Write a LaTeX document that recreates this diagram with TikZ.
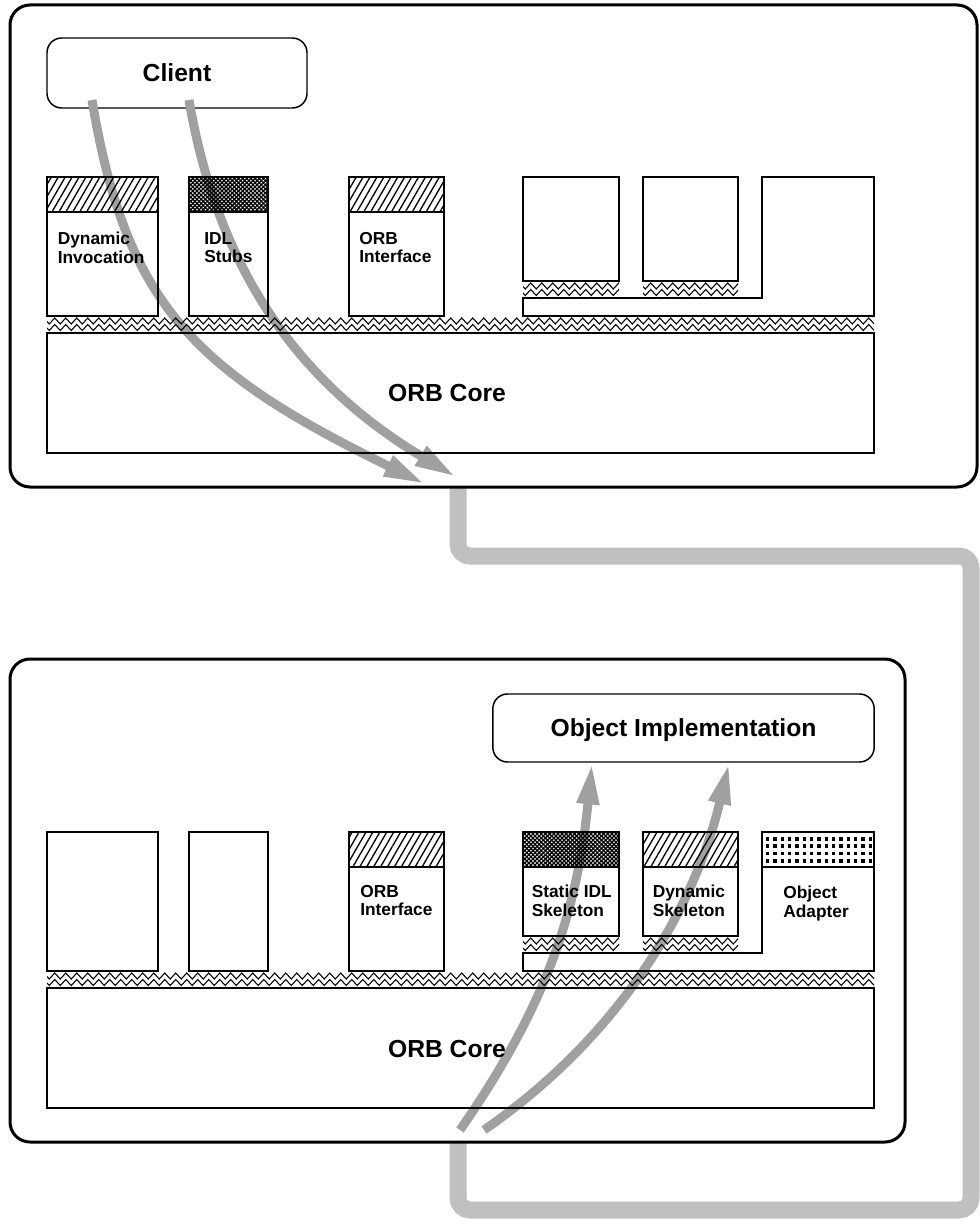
\documentclass[tikz,border=0pt]{standalone}
\usepackage{fontspec}
\setmainfont{Liberation Sans}
\usetikzlibrary{arrows.meta,patterns.meta,decorations.pathmorphing}
\definecolor{flowgray}{HTML}{A0A0A0}
\definecolor{wiregray}{HTML}{C0C0C0}
\tikzset{
  frame/.style={draw=black, line width=2.25pt, rounded corners=15pt},
  boxline/.style={draw=black, line width=1.1pt},
  rbox/.style={draw=black, line width=1.1pt, rounded corners=11pt, fill=white, inner sep=0pt,
     font=\fontsize{18.5}{22}\selectfont\bfseries, text height=13.3pt, text depth=0pt},
  biglabel/.style={font=\fontsize{18.5}{22}\selectfont\bfseries, inner sep=0pt, anchor=base},
  smalllabel/.style={font=\fontsize{13}{13.75}\selectfont\bfseries, align=left, inner sep=0pt, anchor=north west},
  flow/.style={draw=flowgray, line width=6.75pt, -{Triangle[length=31pt,width=15.5pt]}},
  wire/.style={draw=wiregray, line width=12.75pt, rounded corners=9pt},
  hatchA/.style={pattern={Lines[angle=60,distance=4.5pt,line width=1pt]}},
  hatchX/.style={pattern={Hatch[angle=45,distance=2.2pt,line width=1pt]}},
  zz/.style={draw=black, line width=0.8pt, decorate, decoration={zigzag, segment length=8.25pt, amplitude=2.25pt}},
  dotrow/.style={draw=black, line width=2.4pt, dash pattern=on 2.4pt off 3.1pt}
}
\newcommand{\zzstrip}[3]{%
  \begin{scope}
    \clip (#1,#3) rectangle (#2,#3+17);
    \draw[zz] (#1-6,#3+5) -- (#2+6,#3+5);
    \draw[zz] (#1-6,#3+11.5) -- (#2+6,#3+11.5);
  \end{scope}}
\begin{document}
\begin{tikzpicture}[x=0.75pt,y=-0.75pt]
\useasboundingbox (0,0) rectangle (980,1226);

% connector between the two ORBs
\coordinate (w0) at (458,488);
\coordinate (w1) at (458,1142);
\draw[wire] (w0) -- (458,556) -- (971,556) -- (971,1210) -- (458,1210) -- (w1);

% frames
\draw[frame] (10,5) rectangle (977,487);
\draw[frame] (10,659) rectangle (905,1142);

% client and object implementation
\node[rbox, minimum width=195pt, minimum height=52.5pt] (client) at (177,73) {Client};
\node[rbox, minimum width=286pt, minimum height=51pt] (objimpl) at (683.5,728) {Object Implementation};

% flows
\coordinate (a1s) at (92,100);  \coordinate (a1e) at (425,484);
\coordinate (a2s) at (189,100); \coordinate (a2e) at (456,477);
\draw[flow] (a1s) .. controls (126,303) and (192,370) .. (a1e);
\draw[flow] (a2s) .. controls (216,258) and (289,377) .. (a2e);
\coordinate (b1s) at (460,1130); \coordinate (b1e) at (592,763);
\coordinate (b2s) at (484,1130); \coordinate (b2e) at (729,763);
\draw[flow] (b1s) .. controls (545.5,1007) and (577,913) .. (b1e);
\draw[flow] (b2s) .. controls (641,1021) and (701,882) .. (b2e);

% ---------------- top panel ----------------
\fill[hatchA] (47,177) rectangle (158,212);
\draw[boxline] (47,177) rectangle (158,316);
\draw[boxline] (47,212) -- (158,212);
\fill[hatchX] (189,177) rectangle (268,212);
\draw[boxline] (189,177) rectangle (268,316);
\draw[boxline] (189,212) -- (268,212);
\fill[hatchA] (349,177) rectangle (444,212);
\draw[boxline] (349,177) rectangle (444,316);
\draw[boxline] (349,212) -- (444,212);
\draw[boxline] (523,177) rectangle (619,281);
\draw[boxline] (643,177) rectangle (738,281);
\zzstrip{523}{619}{281}
\zzstrip{643}{738}{281}
\draw[boxline] (523,298) -- (762,298) -- (762,177) -- (874,177) -- (874,316) -- (523,316) -- cycle;
\zzstrip{47}{874}{316}
\draw[boxline] (47,333) rectangle (874,453);

\node[smalllabel] (lDI) at (57.5,232) {Dynamic\\Invocation};
\node[smalllabel] (lIDL) at (204,232) {IDL\\Stubs};
\node[smalllabel] (lORBI) at (359,232) {ORB\\Interface};
\node[biglabel] (core1) at (447,402) {ORB Core};

% ---------------- bottom panel ----------------
\draw[boxline] (47,832) rectangle (158,971);
\draw[boxline] (189,832) rectangle (268,971);
\fill[hatchA] (349,832) rectangle (444,867);
\draw[boxline] (349,832) rectangle (444,971);
\draw[boxline] (349,867) -- (444,867);
\fill[hatchX] (523,832) rectangle (619,867);
\draw[boxline] (523,832) rectangle (619,936);
\draw[boxline] (523,867) -- (619,867);
\fill[hatchA] (643,832) rectangle (738,867);
\draw[boxline] (643,832) rectangle (738,936);
\draw[boxline] (643,867) -- (738,867);
\zzstrip{523}{619}{936}
\zzstrip{643}{738}{936}
\begin{scope}
  \clip (764,833) rectangle (873,866);
  \foreach \yy in {839,846,853.5,861} {\draw[dotrow] (766,\yy) -- (873,\yy);}
\end{scope}
\draw[boxline] (523,953) -- (762,953) -- (762,832) -- (874,832) -- (874,971) -- (523,971) -- cycle;
\draw[boxline] (762,867) -- (874,867);
\zzstrip{47}{874}{971}
\draw[boxline] (47,988) rectangle (874,1108);

\node[smalllabel] (lORBI2) at (360,885) {ORB\\Interface};
\node[smalllabel] (lSIS) at (531.5,885) {Static IDL\\Skeleton};
\node[smalllabel] (lDS) at (652.5,885) {Dynamic\\Skeleton};
\node[smalllabel] (lOA) at (783,886) {Object\\Adapter};
\node[biglabel] (core2) at (447,1057) {ORB Core};
\end{tikzpicture}
\end{document}
